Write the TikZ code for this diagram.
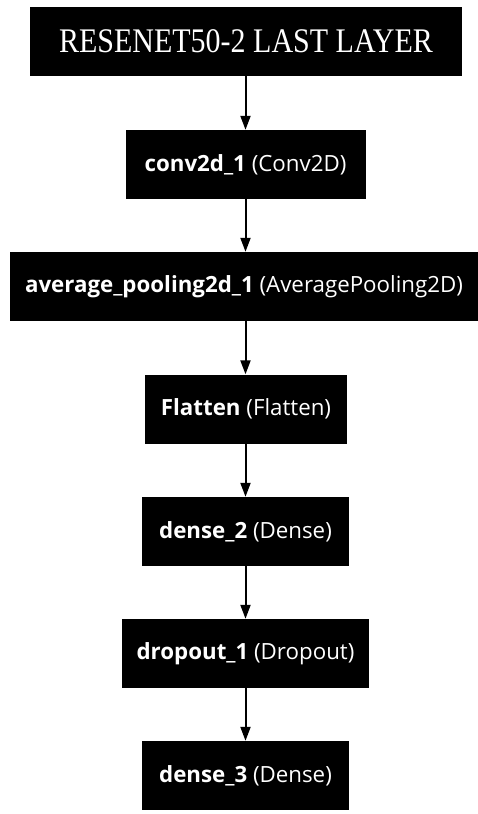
\documentclass[tikz,border=0pt]{standalone}
\usepackage{fontspec}
\setmainfont{Liberation Serif}
\newfontfamily\boxfont{Open Sans}
\usetikzlibrary{arrows.meta}
\begin{document}
\begin{tikzpicture}[x=1pt,y=-1pt,
  layer/.style={fill=black, text=white, inner sep=0pt, minimum height=69pt,
    font=\boxfont\fontsize{22.3}{26}\selectfont},
  title/.style={fill=black, text=white, inner sep=0pt, minimum height=69pt,
    font=\rmfamily\fontsize{30}{34}\selectfont},
  flow/.style={line width=2pt, -{Triangle[length=14pt,width=10pt]}}]
\useasboundingbox[fill=white] (0,0) rectangle (478,814);
\node[title, minimum width=432pt] (t) at (246,41.5) {\scalebox{1}[1.15]{RESENET50-2 LAST LAYER}};
\node[layer, minimum width=240pt] (c) at (245.5,164.5) {\textbf{conv2d\_1} (Conv2D)};
\node[layer, minimum width=468pt] (a) at (244,286.5) {\textbf{average\_pooling2d\_1} (AveragePooling2D)};
\node[layer, minimum width=202pt] (f) at (246,409) {\textbf{Flatten} (Flatten)};
\node[layer, minimum width=207pt] (d2) at (245.5,531.5) {\textbf{dense\_2} (Dense)};
\node[layer, minimum width=247pt] (dr) at (245.5,653.5) {\textbf{dropout\_1} (Dropout)};
\node[layer, minimum width=207pt] (d3) at (245.5,775.5) {\textbf{dense\_3} (Dense)};
\draw[flow] (t.south -| 245.5,0) -- (c.north -| 245.5,0);
\draw[flow] (c.south -| 245.5,0) -- (a.north -| 245.5,0);
\draw[flow] (a.south -| 245.5,0) -- (f.north -| 245.5,0);
\draw[flow] (f.south -| 245.5,0) -- (d2.north -| 245.5,0);
\draw[flow] (d2.south -| 245.5,0) -- (dr.north -| 245.5,0);
\draw[flow] (dr.south -| 245.5,0) -- (d3.north -| 245.5,0);
\end{tikzpicture}
\end{document}
